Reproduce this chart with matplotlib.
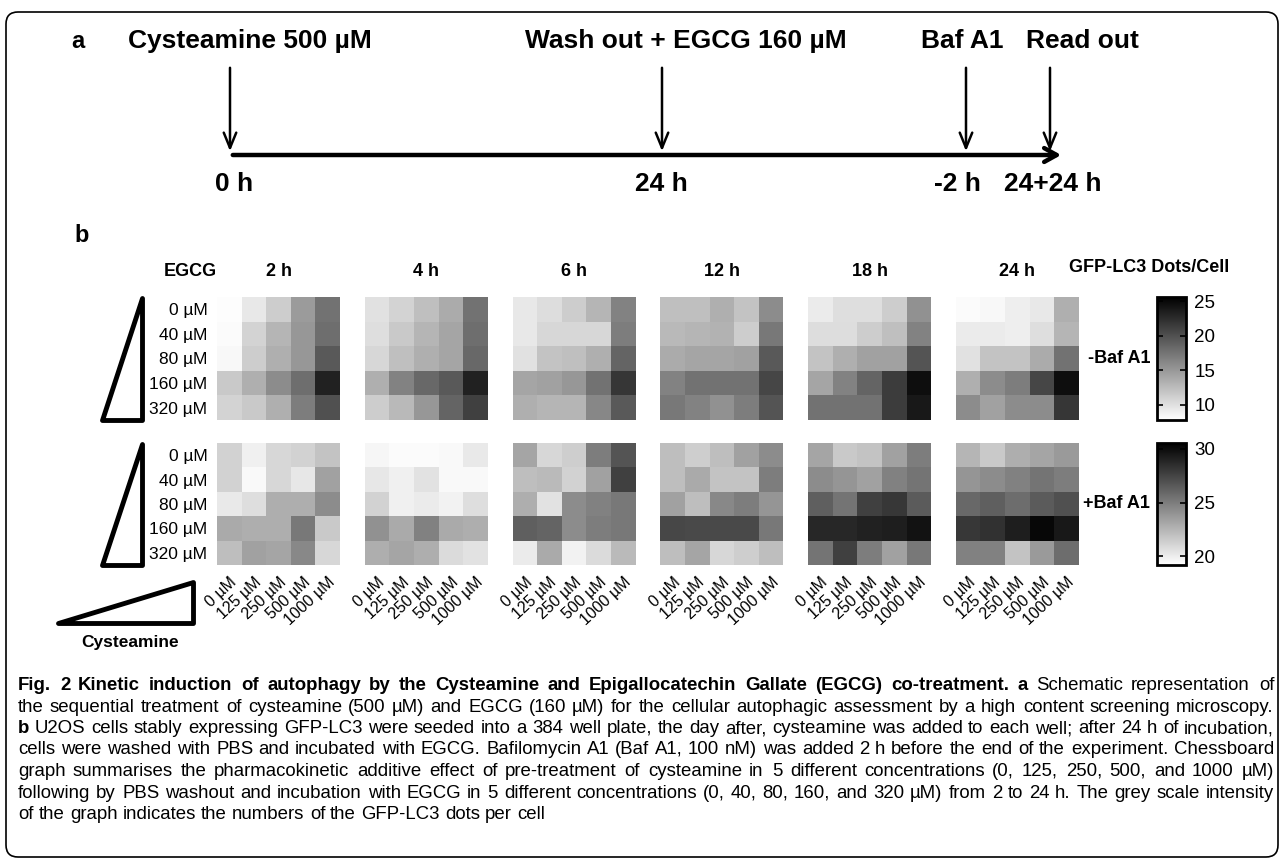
import numpy as np
import matplotlib
matplotlib.use('Agg')
import matplotlib.pyplot as plt
from matplotlib.patches import FancyBboxPatch, Polygon, FancyArrowPatch

plt.rcParams['font.family'] = ['Liberation Sans', 'DejaVu Sans']

# ==========================================================
# DATA  (GFP-LC3 dots / cell, rows = EGCG, cols = cysteamine)
# ==========================================================

times = ['2 h', '4 h', '6 h', '12 h', '18 h', '24 h']
egcg_labels = ['0 µM', '40 µM', '80 µM', '160 µM', '320 µM']
cyst_labels = ['0 µM', '125 µM', '250 µM', '500 µM', '1000 µM']

# - Baf A1
minus_2h = [[8.0, 9.4, 11.3, 14.8, 17.6],
            [8.1, 10.9, 13.0, 15.1, 17.9],
            [8.3, 11.3, 13.4, 15.1, 19.3],
            [11.6, 13.4, 15.8, 17.9, 23.2],
            [10.9, 11.6, 13.4, 16.9, 20.0]]
minus_4h = [[9.9, 10.9, 12.3, 13.7, 17.6],
            [10.1, 11.6, 13.0, 14.1, 17.9],
            [10.6, 12.3, 13.4, 14.1, 18.3],
            [13.4, 16.5, 18.3, 19.3, 23.2],
            [11.3, 12.7, 15.1, 18.6, 21.1]]
minus_6h = [[9.4, 10.2, 11.3, 13.0, 16.5],
            [9.4, 10.6, 10.6, 10.6, 16.9],
            [9.9, 12.0, 12.3, 13.4, 18.6],
            [14.1, 14.4, 15.1, 17.6, 21.8],
            [13.4, 13.0, 13.0, 16.2, 19.3]]
minus_12h = [[12.3, 12.3, 13.4, 12.0, 15.8],
             [12.7, 13.0, 13.2, 11.3, 17.2],
             [13.7, 14.1, 14.1, 14.4, 19.3],
             [16.5, 17.6, 17.6, 17.6, 20.7],
             [17.2, 16.5, 15.5, 16.9, 19.7]]
minus_18h = [[9.2, 10.1, 10.1, 11.3, 15.5],
             [10.2, 10.2, 11.3, 12.3, 16.5],
             [12.0, 13.4, 14.4, 14.4, 19.7],
             [14.1, 16.5, 18.6, 21.4, 24.6],
             [17.6, 17.6, 17.6, 21.4, 23.9]]
minus_24h = [[8.1, 8.3, 9.0, 9.4, 13.4],
             [9.2, 9.2, 9.0, 10.1, 13.0],
             [9.9, 12.0, 12.0, 13.7, 17.6],
             [13.4, 15.8, 16.9, 20.7, 24.6],
             [15.8, 14.4, 15.8, 15.8, 21.8]]

# + Baf A1
plus_2h = [[21.2, 19.9, 21.0, 21.2, 21.9],
           [21.2, 19.5, 21.0, 20.3, 23.4],
           [20.2, 20.7, 22.8, 22.8, 24.3],
           [23.0, 22.8, 22.8, 25.2, 21.6],
           [22.1, 23.4, 23.2, 24.5, 21.0]]
plus_4h = [[19.6, 19.4, 19.4, 19.5, 20.2],
           [20.3, 19.9, 20.5, 19.5, 19.5],
           [21.2, 19.9, 20.1, 19.8, 20.7],
           [24.1, 23.0, 24.8, 23.0, 22.8],
           [22.8, 23.2, 22.8, 20.8, 20.5]]
plus_6h = [[23.2, 21.0, 21.4, 25.0, 26.8],
           [22.1, 22.3, 21.2, 23.4, 27.7],
           [22.8, 20.5, 24.3, 24.8, 25.2],
           [26.3, 26.1, 24.3, 25.0, 25.2],
           [20.1, 23.0, 19.8, 20.8, 22.3]]
plus_12h = [[22.1, 21.4, 22.1, 23.4, 24.3],
            [22.1, 23.0, 21.9, 21.9, 25.0],
            [23.4, 22.1, 24.5, 25.0, 23.9],
            [27.4, 27.3, 27.3, 27.3, 25.2],
            [22.1, 23.2, 21.0, 21.4, 22.1]]
plus_18h = [[23.2, 21.6, 21.9, 23.4, 25.0],
            [24.3, 23.9, 23.4, 24.8, 25.4],
            [26.3, 25.4, 27.7, 28.1, 26.5],
            [28.8, 28.8, 29.0, 29.2, 29.7],
            [25.4, 27.7, 25.0, 23.4, 25.2]]
plus_24h = [[22.5, 21.6, 22.8, 23.2, 23.7],
            [23.9, 24.3, 24.8, 25.4, 25.0],
            [25.9, 26.3, 25.7, 26.5, 27.0],
            [28.1, 28.3, 29.2, 30.2, 29.4],
            [24.8, 24.8, 21.9, 23.7, 25.7]]

minus_blocks = [minus_2h, minus_4h, minus_6h, minus_12h, minus_18h, minus_24h]
plus_blocks = [plus_2h, plus_4h, plus_6h, plus_12h, plus_18h, plus_24h]

minus_range = (7.8, 25.6)
plus_range = (19.2, 30.55)

caption = [
    ("Fig. 2 Kinetic induction of autophagy by the Cysteamine and Epigallocatechin Gallate (EGCG) co-treatment. a",
     "Schematic representation of"),
    ("", "the sequential treatment of cysteamine (500 µM) and EGCG (160 µM) for the cellular autophagic assessment by a high content screening microscopy."),
    ("b", "U2OS cells stably expressing GFP-LC3 were seeded into a 384 well plate, the day after, cysteamine was added to each well; after 24 h of incubation,"),
    ("", "cells were washed with PBS and incubated with EGCG. Bafilomycin A1 (Baf A1, 100 nM) was added 2 h before the end of the experiment. Chessboard"),
    ("", "graph summarises the pharmacokinetic additive effect of pre-treatment of cysteamine in 5 different concentrations (0, 125, 250, 500, and 1000 µM)"),
    ("", "following by PBS washout and incubation with EGCG in 5 different concentrations (0, 40, 80, 160, and 320 µM) from 2 to 24 h. The grey scale intensity"),
    ("", "of the graph indicates the numbers of the GFP-LC3 dots per cell"),
]

# ==========================================================
# FIGURE
# ==========================================================

W, H = 1282, 861
fig = plt.figure(figsize=(W / 100, H / 100), dpi=100)
fig.patch.set_facecolor('white')

bg = fig.add_axes([0, 0, 1, 1])
bg.set_xlim(0, W)
bg.set_ylim(H, 0)
bg.axis('off')


def px_axes(x0, y0, x1, y1):
    return fig.add_axes([x0 / W, 1 - y1 / H, (x1 - x0) / W, (y1 - y0) / H])


# cadre arrondi
bg.add_patch(FancyBboxPatch((6, 12), 1272, 845, boxstyle='round,pad=0,rounding_size=12',
                            fc='none', ec='black', lw=1.2))

# ----------------------------------------------------------
# PANEL a : schéma
# ----------------------------------------------------------

bg.text(78, 41, 'a', fontsize=17, fontweight='bold', ha='center', va='center')

bg.add_patch(FancyArrowPatch((230, 155), (1064, 155), arrowstyle='->,head_length=9,head_width=5',
                             mutation_scale=1, lw=3.2, color='black'))
for x in [230, 662, 966, 1050]:
    bg.add_patch(FancyArrowPatch((x, 65), (x, 154), arrowstyle='->,head_length=11,head_width=4.5',
                                 mutation_scale=1, lw=1.8, color='black'))

top_labels = [(250, 'Cysteamine 500 µM'), (686, 'Wash out + EGCG 160 µM'),
              (962, 'Baf A1'), (1082, 'Read out')]
for x, s in top_labels:
    bg.text(x, 41, s, fontsize=19, fontweight='bold', ha='center', va='center')

bottom_labels = [(234, '0 h'), (661, '24 h'), (957, '-2 h'), (1053, '24+24 h')]
for x, s in bottom_labels:
    bg.text(x, 184, s, fontsize=19, fontweight='bold', ha='center', va='center')

# ----------------------------------------------------------
# PANEL b : chessboard
# ----------------------------------------------------------

bg.text(82, 236, 'b', fontsize=17, fontweight='bold', ha='center', va='center')
bg.text(190, 272, 'EGCG', fontsize=13, fontweight='bold', ha='center', va='center')
bg.text(1149, 268, 'GFP-LC3 Dots/Cell', fontsize=13, fontweight='bold', ha='center', va='center')

cmap = plt.get_cmap('gray_r').copy()
cmap.set_bad('white')

n = 5
ncol = len(times) * (n + 1) - 1


def chessboard(blocks):
    grid = np.full((n, ncol), np.nan)
    for k, b in enumerate(blocks):
        grid[:, k * (n + 1):k * (n + 1) + n] = np.array(b)
    return grid


x_left, x_right = 217, 1079
panels = [(297, 420, minus_blocks, minus_range, '-Baf A1', [10, 15, 20, 25]),
          (443, 565, plus_blocks, plus_range, '+Baf A1', [20, 25, 30])]

for i, (y0, y1, blocks, (vmin, vmax), tag, cticks) in enumerate(panels):
    ax = px_axes(x_left, y0, x_right, y1)
    im = ax.imshow(chessboard(blocks), cmap=cmap, vmin=vmin, vmax=vmax,
                   aspect='auto', interpolation='nearest')
    for s in ax.spines.values():
        s.set_visible(False)
    ax.set_yticks(range(n))
    ax.set_yticklabels(egcg_labels, fontsize=12.5)
    ax.tick_params(axis='both', length=0)
    ax.tick_params(axis='y', pad=7)

    if i == 1:
        pos = [k * (n + 1) + j for k in range(len(times)) for j in range(n)]
        ax.set_xticks(pos)
        ax.set_xticklabels(cyst_labels * len(times), fontsize=11.5, rotation=43,
                           ha='right', va='top', rotation_mode='anchor')
        ax.tick_params(axis='x', pad=7)
    else:
        ax.set_xticks([])
        for k, t in enumerate(times):
            bg.text(x_left + (k * (n + 1) + 2) * (x_right - x_left) / ncol + 12.3, 272, t,
                    fontsize=13, fontweight='bold', ha='center', va='center')

    # triangle EGCG
    bg.add_patch(Polygon([(142, y0 + 1), (142, y1), (102, y1)], closed=True,
                         fc='white', ec='black', lw=3.5, joinstyle='round'))

    bg.text(1150, (y0 + y1) / 2, tag, fontsize=13, fontweight='bold', ha='right', va='center')

    cax = px_axes(1157, y0, 1186, y1)
    cb = fig.colorbar(im, cax=cax, ticks=cticks)
    cb.outline.set_linewidth(2)
    cax.tick_params(direction='in', left=True, right=True, length=4, width=1.2,
                    labelsize=13.5, pad=6)

# triangle cystéamine
bg.add_patch(Polygon([(58, 623), (193, 623), (193, 582)], closed=True,
                     fc='white', ec='black', lw=3.5, joinstyle='round'))
bg.text(130, 643, 'Cysteamine', fontsize=12.5, fontweight='bold', ha='center', va='center')

# ----------------------------------------------------------
# LÉGENDE (texte justifié, mot par mot)
# ----------------------------------------------------------

renderer = fig.canvas.get_renderer()
cap_x0, cap_x1 = 18, 1274
cap_y0, cap_dy = 690, 21.5

# taille de police : la ligne justifiée la plus longue remplit presque la largeur
probe = []
for bold, regular in caption[:-1]:
    t1 = bg.text(0, 0, bold + ' ', fontsize=10, fontweight='bold')
    t2 = bg.text(0, 0, regular, fontsize=10)
    probe.append(t1.get_window_extent(renderer).width + t2.get_window_extent(renderer).width)
    t1.remove()
    t2.remove()
cap_fs = min(14.5, 10 * (cap_x1 - cap_x0) / max(probe) * 0.995)

for li, (bold, regular) in enumerate(caption):
    words = [(w, 'bold') for w in bold.split()] + [(w, 'normal') for w in regular.split()]
    y = round(cap_y0 + li * cap_dy)
    items = [bg.text(0, y, w, fontsize=cap_fs, fontweight=wt, ha='left', va='baseline')
             for w, wt in words]
    widths = [t.get_window_extent(renderer).width for t in items]
    if li < len(caption) - 1:
        gap = (cap_x1 - cap_x0 - sum(widths)) / (len(items) - 1)
    else:
        gap = cap_fs * 100 / 72 * 0.278
    x = cap_x0
    for t, w in zip(items, widths):
        t.set_x(round(x))
        x += w + gap

fig.savefig('out.png', dpi=100)
